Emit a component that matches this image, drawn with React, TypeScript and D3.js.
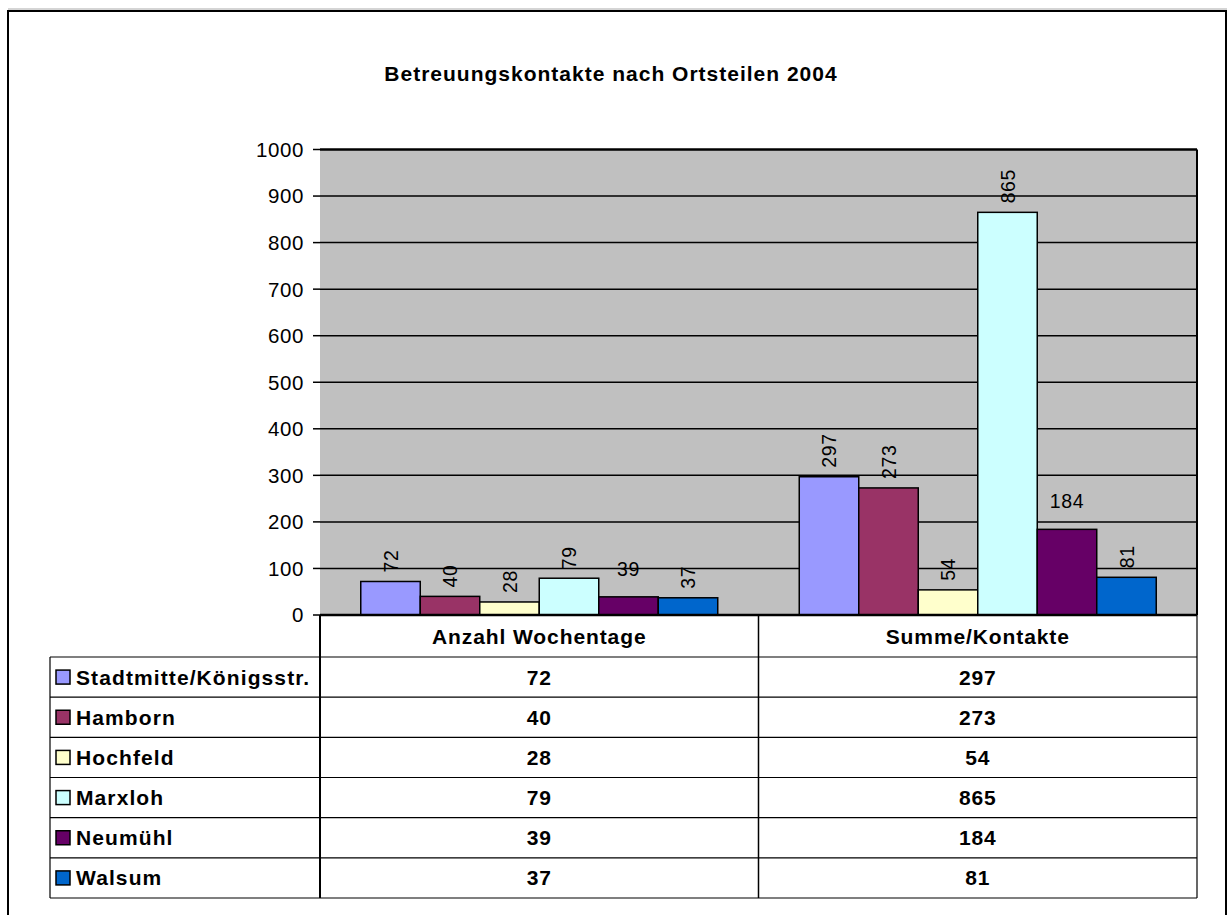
import React from "react";
import * as d3 from "d3";

const title = "Betreuungskontakte nach Ortsteilen 2004";
const categories = ["Anzahl Wochentage", "Summe/Kontakte"];
const seriesNames = ["Stadtmitte/Königsstr.", "Hamborn", "Hochfeld", "Marxloh", "Neumühl", "Walsum"];
const seriesColors = ["#9999FF", "#993366", "#FFFFCC", "#CCFFFF", "#660066", "#0066CC"];
const wochentage = [72, 40, 28, 79, 39, 37];
const kontakte = [297, 273, 54, 865, 184, 81];
const labelHorizontal = [false, false, false, false, true, false];
const yTicks = [0, 100, 200, 300, 400, 500, 600, 700, 800, 900, 1000];

const W = 1229;
const H = 915;
const plotLeft = 320;
const plotRight = 1197;
const plotTop = 149.5;
const plotBottom = 615;
const tableLeft = 50;
const headerBottom = 657;
const tableBottom = 898;
const FONT = "'Liberation Sans', Arial, sans-serif";

export default function App() {
  const values = [wochentage, kontakte];
  const x0 = d3.scaleBand<string>().domain(categories).range([plotLeft, plotRight]).padding(0);
  const x1 = d3
    .scaleBand<string>()
    .domain(seriesNames)
    .range([0, x0.bandwidth()])
    .paddingInner(0)
    .paddingOuter(0.685);
  const y = d3.scaleLinear().domain([0, 1000]).range([plotBottom, plotTop]);
  const rowH = (tableBottom - headerBottom) / seriesNames.length;

  return (
    <svg
      width={W}
      height={H}
      style={{ position: "absolute", left: 0, top: 0, background: "#fff" }}
      fontFamily={FONT}
    >
      <line x1={8} y1={9} x2={1227} y2={9} stroke="#aaa" strokeWidth={1} />
      <rect x={8} y={11} width={1218} height={920} fill="#fff" stroke="#000" strokeWidth={2} />
      <text x={611} y={81} textAnchor="middle" fontSize={21} fontWeight="bold" letterSpacing={1}>
        {title}
      </text>

      {/* plot area */}
      <rect x={plotLeft} y={plotTop} width={plotRight - plotLeft} height={plotBottom - plotTop} fill="#C0C0C0" />
      {yTicks.map((t) => (
        <g key={t}>
          <line x1={plotLeft} x2={plotRight} y1={y(t)} y2={y(t)} stroke="#000" strokeWidth={t === 1000 ? 2.5 : 1.5} />
          <line x1={plotLeft - 7} x2={plotLeft} y1={y(t)} y2={y(t)} stroke="#000" strokeWidth={1.5} />
          <text x={plotLeft - 16} y={y(t)} dy="0.36em" textAnchor="end" fontSize={20.5} letterSpacing={0.6}>
            {t}
          </text>
        </g>
      ))}

      {/* bars */}
      {categories.map((c, ci) => (
        <g key={c} transform={`translate(${x0(c)},0)`}>
          {seriesNames.map((s, si) => {
            const v = values[ci][si];
            const bx = x1(s)!;
            const bw = x1.bandwidth();
            const cx = bx + bw / 2;
            return (
              <g key={s}>
                <rect x={bx} y={y(v)} width={bw} height={plotBottom - y(v)} fill={seriesColors[si]} stroke="#000" strokeWidth={1.5} />
                {labelHorizontal[si] ? (
                  <text x={cx} y={y(v) - 21} textAnchor="middle" fontSize={19.5} letterSpacing={0.6}>
                    {v}
                  </text>
                ) : (
                  <text
                    transform={`translate(${cx},${y(v) - 9}) rotate(-90)`}
                    dy="0.36em"
                    textAnchor="start"
                    fontSize={19.5}
                    letterSpacing={0.6}
                  >
                    {v}
                  </text>
                )}
              </g>
            );
          })}
        </g>
      ))}

      {/* plot frame */}
      <line x1={plotRight} x2={plotRight} y1={plotTop} y2={plotBottom} stroke="#000" strokeWidth={2} />
      <line x1={plotLeft} x2={plotRight} y1={plotBottom} y2={plotBottom} stroke="#000" strokeWidth={2.5} />

      {/* data table */}
      <g stroke="#000" strokeWidth={1.2}>
        <line x1={tableLeft} x2={plotRight} y1={headerBottom} y2={headerBottom} />
        {seriesNames.map((s, i) => (
          <line key={s} x1={tableLeft} x2={plotRight} y1={headerBottom + rowH * (i + 1)} y2={headerBottom + rowH * (i + 1)} />
        ))}
        <line x1={tableLeft} x2={tableLeft} y1={headerBottom} y2={tableBottom} />
        <line x1={plotRight} x2={plotRight} y1={plotBottom} y2={tableBottom} />
        {categories.map((c) => (
          <line key={c} x1={x0(c)!} x2={x0(c)!} y1={plotBottom} y2={tableBottom} strokeWidth={c === categories[0] ? 2 : 1.5} />
        ))}
      </g>
      {categories.map((c) => (
        <text key={c} x={x0(c)! + x0.bandwidth() / 2} y={(plotBottom + headerBottom) / 2} dy="0.36em" textAnchor="middle" fontSize={21} fontWeight="bold" letterSpacing={0.9}>
          {c}
        </text>
      ))}
      {seriesNames.map((s, si) => {
        const cy = headerBottom + rowH * si + rowH / 2;
        return (
          <g key={s}>
            <rect x={56} y={cy - 7} width={14} height={14} fill={seriesColors[si]} stroke="#000" strokeWidth={1.5} />
            <text x={76} y={cy} dy="0.36em" fontSize={21} fontWeight="bold" letterSpacing={1.1}>
              {s}
            </text>
            {categories.map((c, ci) => (
              <text key={c} x={x0(c)! + x0.bandwidth() / 2} y={cy} dy="0.36em" textAnchor="middle" fontSize={21} fontWeight="bold" letterSpacing={0.8}>
                {values[ci][si]}
              </text>
            ))}
          </g>
        );
      })}
    </svg>
  );
}
